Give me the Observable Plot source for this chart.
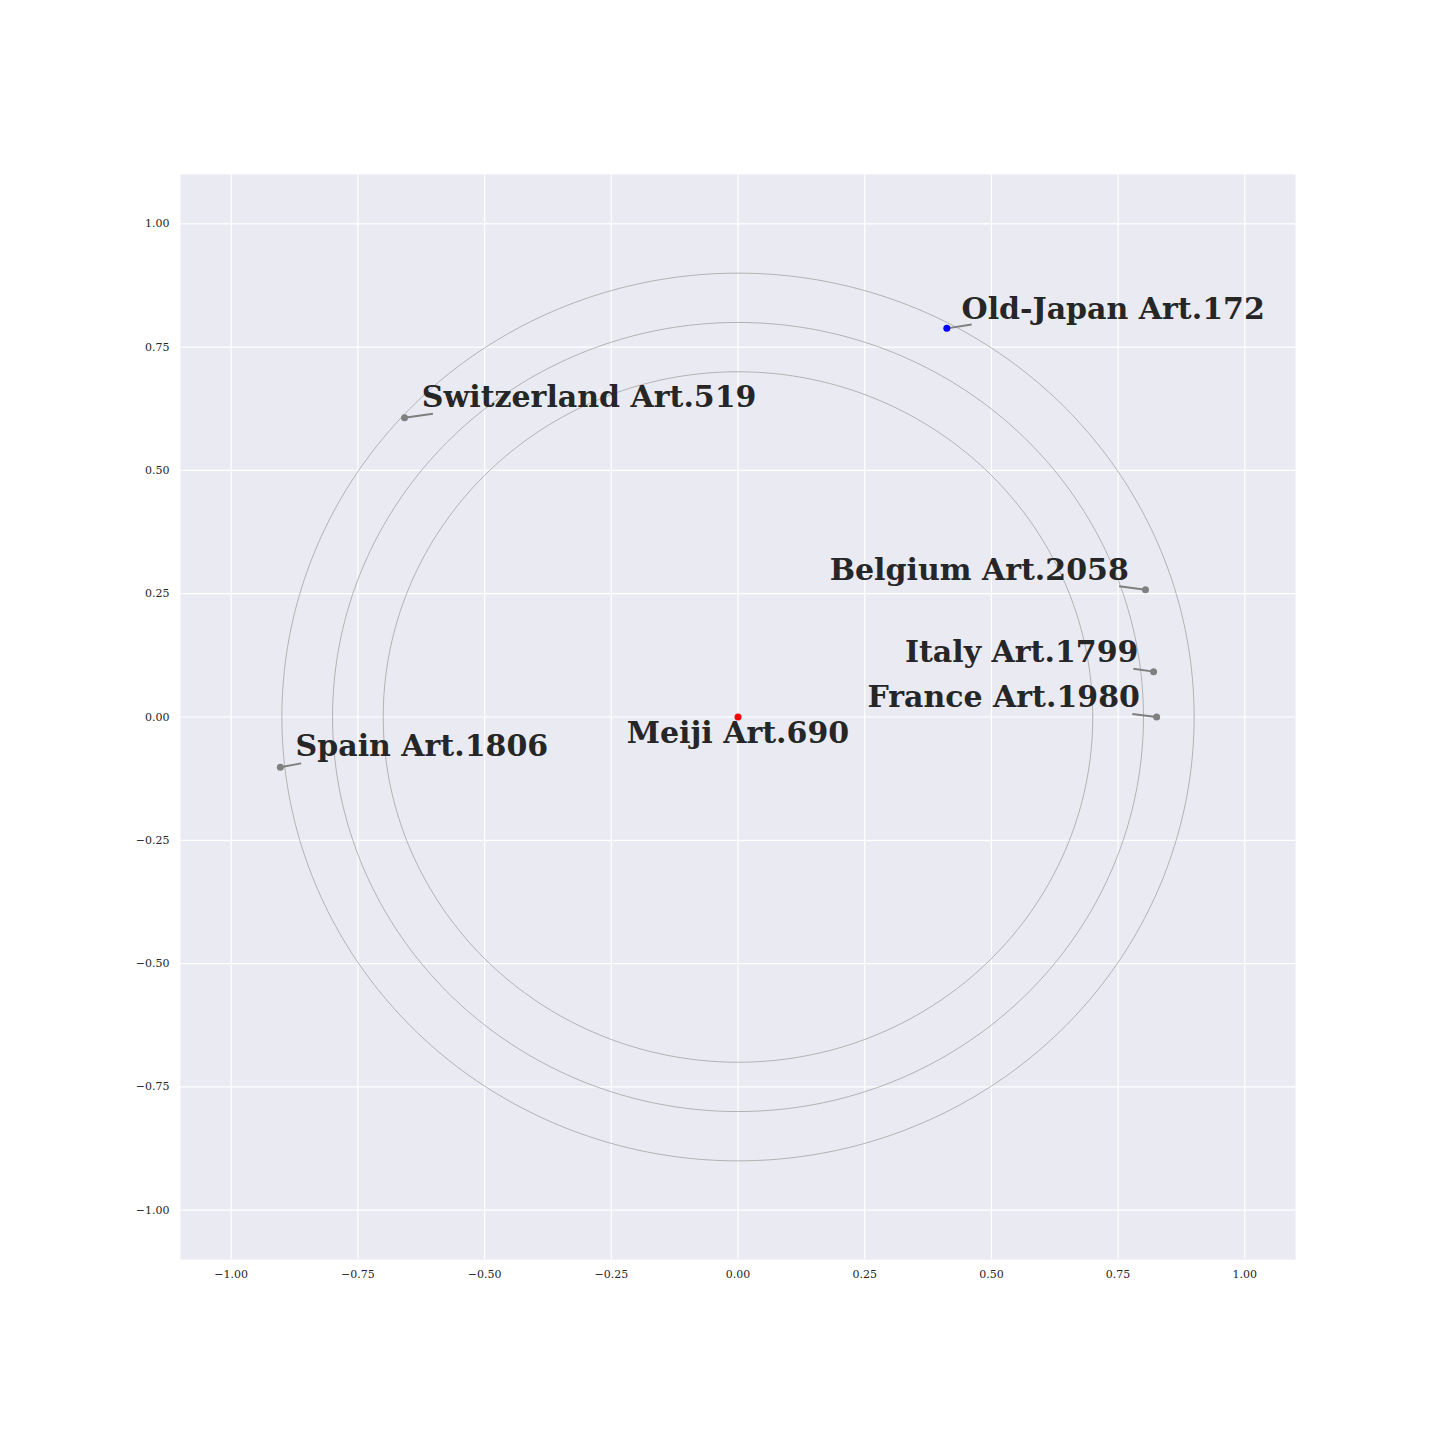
<!DOCTYPE html>
<html>
<head>
<meta charset="utf-8">
<script src="https://cdn.jsdelivr.net/npm/d3@7"></script>
<script src="https://cdn.jsdelivr.net/npm/@observablehq/plot@0.6"></script>
<style>
  html, body { margin: 0; padding: 0; background: #ffffff; }
  #chart svg { display: block; }
</style>
</head>
<body>
<div id="chart"></div>
<script>
// Data
const names   = ["Old-Japan Art.172", "Switzerland Art.519", "Belgium Art.2058", "Italy Art.1799", "France Art.1980", "Spain Art.1806", "Meiji Art.690"];
const pointX  = [0.412, -0.658, 0.804, 0.820, 0.826, -0.903, 0.0];
const pointY  = [0.788, 0.607, 0.258, 0.092, 0.0, -0.102, 0.0];
const pointColor = ["blue", "gray", "gray", "gray", "gray", "gray", "red"];
// label anchor positions (data units) and leader-line ends, as placed in the reference
const labelX  = [0.441, -0.624, 0.771, 0.790, 0.793, -0.873, 0.0];
const labelY  = [0.826, 0.648, 0.298, 0.131, 0.040, -0.059, -0.034];
const labelAnchor = ["start", "start", "end", "end", "end", "start", "middle"];
const leaderX = [0.461, -0.602, 0.752, 0.780, 0.778, -0.862, null];
const leaderY = [0.796, 0.615, 0.265, 0.098, 0.006, -0.094, null];
const ringRadii = [0.7, 0.8, 0.9];
const tickValues = [-1.0, -0.75, -0.5, -0.25, 0.0, 0.25, 0.5, 0.75, 1.0];

const points = names.map((n, i) => ({
  name: n, x: pointX[i], y: pointY[i], color: pointColor[i],
  lx: labelX[i], ly: labelY[i], anchor: labelAnchor[i],
  ex: leaderX[i], ey: leaderY[i]
}));
const leaders = points.filter(d => d.ex != null);

// ring outlines (geometric circles of the given radii)
const angles = d3.range(0, 361, 1).map(a => a * Math.PI / 180);
const rings = ringRadii.flatMap(r => angles.map(t => ({ r, x: r * Math.cos(t), y: r * Math.sin(t) })));

const fmt = v => d3.format(".2f")(v).replace("-", "\u2212");

const chart = Plot.plot({
  width: 1440,
  height: 1440,
  marginLeft: 180,
  marginRight: 145,
  marginTop: 174,
  marginBottom: 181,
  style: { background: "#ffffff", fontFamily: "DejaVu Serif", color: "#262626" },
  x: { domain: [-1.1, 1.1], ticks: tickValues, tickFormat: fmt, label: null },
  y: { domain: [-1.1, 1.1], ticks: tickValues, tickFormat: fmt, label: null },
  marks: [
    Plot.frame({ fill: "#EAEAF2", stroke: null }),
    Plot.gridX(tickValues, { stroke: "#ffffff", strokeOpacity: 1, strokeWidth: 1.2 }),
    Plot.gridY(tickValues, { stroke: "#ffffff", strokeOpacity: 1, strokeWidth: 1.2 }),
    Plot.axisX(tickValues, { tickSize: 0, tickPadding: 11, tickFormat: fmt, fontSize: 11, fill: "#262626", label: null }),
    Plot.axisY(tickValues, { tickSize: 0, tickPadding: 11, tickFormat: fmt, fontSize: 11, fill: "#262626", label: null }),
    Plot.line(rings, { x: "x", y: "y", z: "r", stroke: "#999999", strokeWidth: 0.7 }),
    Plot.link(leaders, { x1: "x", y1: "y", x2: "ex", y2: "ey", stroke: "#7f7f7f", strokeWidth: 2 }),
    Plot.dot(points, { x: "x", y: "y", fill: "color", r: 3.5, stroke: null }),
    Plot.text(points.filter(d => d.anchor === "start"), { x: "lx", y: "ly", text: "name", textAnchor: "start", fontSize: 30, fontWeight: "bold", fontFamily: "DejaVu Serif", fill: "#262626" }),
    Plot.text(points.filter(d => d.anchor === "end"), { x: "lx", y: "ly", text: "name", textAnchor: "end", fontSize: 30, fontWeight: "bold", fontFamily: "DejaVu Serif", fill: "#262626" }),
    Plot.text(points.filter(d => d.anchor === "middle"), { x: "lx", y: "ly", text: "name", textAnchor: "middle", fontSize: 30, fontWeight: "bold", fontFamily: "DejaVu Serif", fill: "#262626" })
  ]
});
document.getElementById("chart").appendChild(chart);
</script>
</body>
</html>
